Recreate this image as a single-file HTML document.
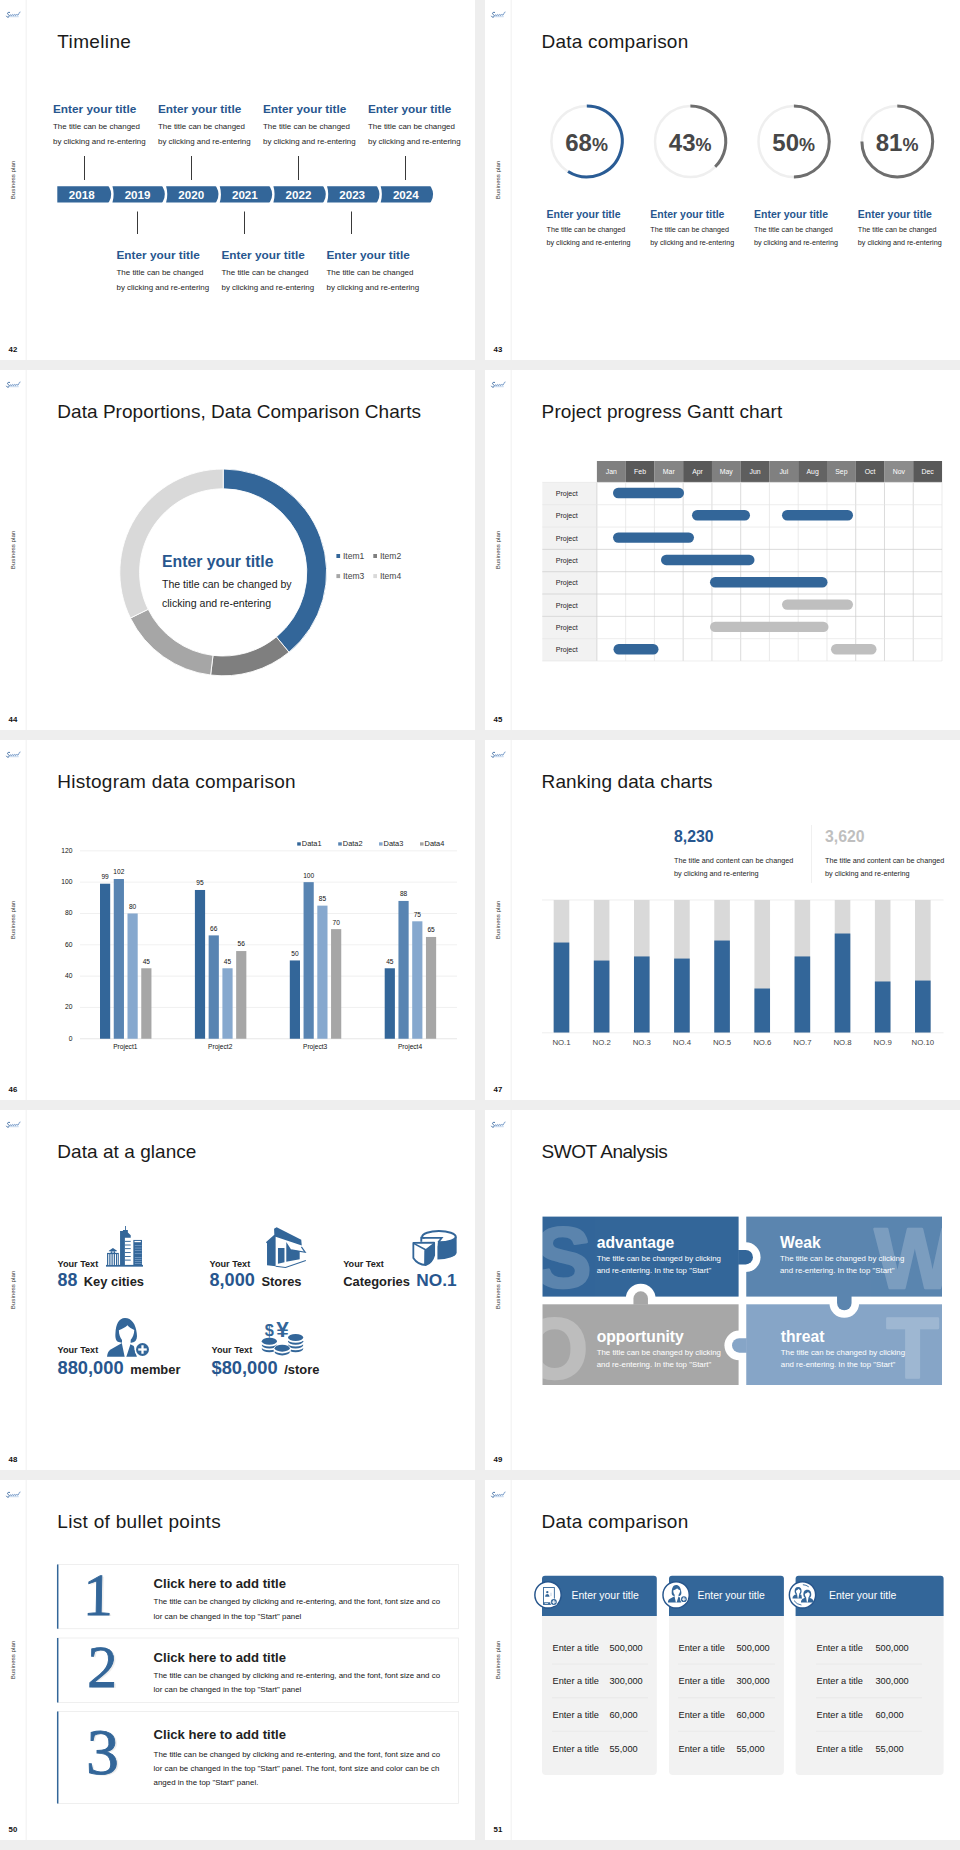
<!DOCTYPE html>
<html lang="en"><head><meta charset="utf-8"><title>Business plan slides</title>
<style>
html,body{margin:0;padding:0}
body{width:960px;height:1850px;background:#eeeeee;position:relative;overflow:hidden;font-family:"Liberation Sans",sans-serif}
.slide{position:absolute;width:475px;height:360px;background:#fff;overflow:hidden}
.art{display:block;font-family:"Liberation Sans",sans-serif}
.art text{white-space:pre}
</style></head><body>
<section class="slide" style="left:0px;top:0px">
<svg class="art" width="475" height="360" viewBox="0 0 475 360">
<line x1="26.2" y1="0" x2="26.2" y2="360" stroke="#f3f3f3" stroke-width="1.2"/>
<g transform="translate(6.4 11.8)" fill="none" stroke-linecap="round"><path d="M3.2 .6C1.6 .2 .6 1.2 1.4 2.2S3.4 3.6 2.6 4.8.4 5.2 0 4.4" stroke="#2e5f9a" stroke-width=".9"/><path d="M3.6 3.6c.5-1 1.1-1 1.2-.2s.5.8 1-.1.9-.8 1 0 .6.8 1.1-.1.8-.9 1 0 .6.7 1.1-.2.9-.7 1 .1.8.5 1.5-1.3 1-1.6 1.2-1.6" stroke="#4a7ab5" stroke-width=".75"/><path d="M3.4 4.9h8.6" stroke="#9fbfe3" stroke-width=".6"/></g>
<text transform="translate(15.3 180) rotate(-90)" font-size="6.2" fill="#333" text-anchor="middle">Business plan</text>
<text x="8.6" y="351.6" font-size="7.8" fill="#111" font-weight="bold">42</text>
<text x="57.3" y="47.5" font-size="19" fill="#1a1a1a" letter-spacing="0.357">Timeline</text>
<text x="53" y="113.3" font-size="11.8" fill="#27568e" font-weight="bold">Enter your title</text><text x="53" y="129.2" font-size="7.95" fill="#1e1e1e">The title can be changed</text><text x="53" y="143.6" font-size="7.95" fill="#1e1e1e">by clicking and re-entering</text><line x1="84.5" y1="156" x2="84.5" y2="180" stroke="#222" stroke-width="0.9"/>
<text x="158" y="113.3" font-size="11.8" fill="#27568e" font-weight="bold">Enter your title</text><text x="158" y="129.2" font-size="7.95" fill="#1e1e1e">The title can be changed</text><text x="158" y="143.6" font-size="7.95" fill="#1e1e1e">by clicking and re-entering</text><line x1="191.5" y1="156" x2="191.5" y2="180" stroke="#222" stroke-width="0.9"/>
<text x="263" y="113.3" font-size="11.8" fill="#27568e" font-weight="bold">Enter your title</text><text x="263" y="129.2" font-size="7.95" fill="#1e1e1e">The title can be changed</text><text x="263" y="143.6" font-size="7.95" fill="#1e1e1e">by clicking and re-entering</text><line x1="298.5" y1="156" x2="298.5" y2="180" stroke="#222" stroke-width="0.9"/>
<text x="368" y="113.3" font-size="11.8" fill="#27568e" font-weight="bold">Enter your title</text><text x="368" y="129.2" font-size="7.95" fill="#1e1e1e">The title can be changed</text><text x="368" y="143.6" font-size="7.95" fill="#1e1e1e">by clicking and re-entering</text><line x1="405.5" y1="156" x2="405.5" y2="180" stroke="#222" stroke-width="0.9"/>
<text x="116.5" y="259.3" font-size="11.8" fill="#27568e" font-weight="bold">Enter your title</text><text x="116.5" y="275.2" font-size="7.95" fill="#1e1e1e">The title can be changed</text><text x="116.5" y="289.6" font-size="7.95" fill="#1e1e1e">by clicking and re-entering</text><line x1="137.5" y1="211.5" x2="137.5" y2="234" stroke="#222" stroke-width="0.9"/>
<text x="221.5" y="259.3" font-size="11.8" fill="#27568e" font-weight="bold">Enter your title</text><text x="221.5" y="275.2" font-size="7.95" fill="#1e1e1e">The title can be changed</text><text x="221.5" y="289.6" font-size="7.95" fill="#1e1e1e">by clicking and re-entering</text><line x1="244.5" y1="211.5" x2="244.5" y2="234" stroke="#222" stroke-width="0.9"/>
<text x="326.5" y="259.3" font-size="11.8" fill="#27568e" font-weight="bold">Enter your title</text><text x="326.5" y="275.2" font-size="7.95" fill="#1e1e1e">The title can be changed</text><text x="326.5" y="289.6" font-size="7.95" fill="#1e1e1e">by clicking and re-entering</text><line x1="351.5" y1="211.5" x2="351.5" y2="234" stroke="#222" stroke-width="0.9"/>
<path d="M57.30 186.3L107.95 186.3Q108.95 186.3 109.20 187.3Q113.25 194.45 109.20 201.6Q108.95 202.6 107.95 202.6L57.30 202.6Z" fill="#336699"/><text x="81.72" y="198.7" font-size="11.6" fill="#fff" font-weight="bold" text-anchor="middle">2018</text>
<path d="M112.45 186.3L161.60 186.3Q162.60 186.3 162.85 187.3Q166.90 194.45 162.85 201.6Q162.60 202.6 161.60 202.6L112.45 202.6Q114.85 194.45 112.45 186.3Z" fill="#336699"/><text x="137.57" y="198.7" font-size="11.6" fill="#fff" font-weight="bold" text-anchor="middle">2019</text>
<path d="M166.10 186.3L215.25 186.3Q216.25 186.3 216.50 187.3Q220.55 194.45 216.50 201.6Q216.25 202.6 215.25 202.6L166.10 202.6Q168.50 194.45 166.10 186.3Z" fill="#336699"/><text x="191.23" y="198.7" font-size="11.6" fill="#fff" font-weight="bold" text-anchor="middle">2020</text>
<path d="M219.75 186.3L268.90 186.3Q269.90 186.3 270.15 187.3Q274.20 194.45 270.15 201.6Q269.90 202.6 268.90 202.6L219.75 202.6Q222.15 194.45 219.75 186.3Z" fill="#336699"/><text x="244.88" y="198.7" font-size="11.6" fill="#fff" font-weight="bold" text-anchor="middle">2021</text>
<path d="M273.40 186.3L322.55 186.3Q323.55 186.3 323.80 187.3Q327.85 194.45 323.80 201.6Q323.55 202.6 322.55 202.6L273.40 202.6Q275.80 194.45 273.40 186.3Z" fill="#336699"/><text x="298.52" y="198.7" font-size="11.6" fill="#fff" font-weight="bold" text-anchor="middle">2022</text>
<path d="M327.05 186.3L376.20 186.3Q377.20 186.3 377.45 187.3Q381.50 194.45 377.45 201.6Q377.20 202.6 376.20 202.6L327.05 202.6Q329.45 194.45 327.05 186.3Z" fill="#336699"/><text x="352.18" y="198.7" font-size="11.6" fill="#fff" font-weight="bold" text-anchor="middle">2023</text>
<path d="M380.70 186.3L429.85 186.3Q430.85 186.3 431.10 187.3Q435.15 194.45 431.10 201.6Q430.85 202.6 429.85 202.6L380.70 202.6Q383.10 194.45 380.70 186.3Z" fill="#336699"/><text x="405.82" y="198.7" font-size="11.6" fill="#fff" font-weight="bold" text-anchor="middle">2024</text>
</svg>
</section>
<section class="slide" style="left:485px;top:0px">
<svg class="art" width="475" height="360" viewBox="485 0 475 360">
<line x1="511.2" y1="0" x2="511.2" y2="360" stroke="#f3f3f3" stroke-width="1.2"/>
<g transform="translate(491.4 11.8)" fill="none" stroke-linecap="round"><path d="M3.2 .6C1.6 .2 .6 1.2 1.4 2.2S3.4 3.6 2.6 4.8.4 5.2 0 4.4" stroke="#2e5f9a" stroke-width=".9"/><path d="M3.6 3.6c.5-1 1.1-1 1.2-.2s.5.8 1-.1.9-.8 1 0 .6.8 1.1-.1.8-.9 1 0 .6.7 1.1-.2.9-.7 1 .1.8.5 1.5-1.3 1-1.6 1.2-1.6" stroke="#4a7ab5" stroke-width=".75"/><path d="M3.4 4.9h8.6" stroke="#9fbfe3" stroke-width=".6"/></g>
<text transform="translate(500.3 180) rotate(-90)" font-size="6.2" fill="#333" text-anchor="middle">Business plan</text>
<text x="493.6" y="351.6" font-size="7.8" fill="#111" font-weight="bold">43</text>
<text x="541.6" y="47.5" font-size="19" fill="#1a1a1a" letter-spacing="0.214">Data comparison</text>
<circle cx="586.8" cy="141.5" r="35.4" fill="none" stroke="#efefef" stroke-width="2.5"/><path d="M586.80 106.10A35.4 35.4 0 1 1 568.04 171.52" fill="none" stroke="#2a5c95" stroke-width="3"/><text x="586.5999999999999" y="150.5" text-anchor="middle" font-weight="bold" fill="#474747" font-size="24">68<tspan font-size="18">%</tspan></text>
<text x="546.5" y="217.6" font-size="10.5" fill="#27568e" font-weight="bold">Enter your title</text><text x="546.5" y="231.8" font-size="7.2" fill="#222">The title can be changed</text><text x="546.5" y="245.4" font-size="7.2" fill="#222">by clicking and re-entering</text>
<circle cx="690.4" cy="141.5" r="35.4" fill="none" stroke="#efefef" stroke-width="2.5"/><path d="M690.40 106.10A35.4 35.4 0 0 1 715.21 166.75" fill="none" stroke="#6e6e6e" stroke-width="3"/><text x="690.1999999999999" y="150.5" text-anchor="middle" font-weight="bold" fill="#474747" font-size="24">43<tspan font-size="18">%</tspan></text>
<text x="650.3" y="217.6" font-size="10.5" fill="#27568e" font-weight="bold">Enter your title</text><text x="650.3" y="231.8" font-size="7.2" fill="#222">The title can be changed</text><text x="650.3" y="245.4" font-size="7.2" fill="#222">by clicking and re-entering</text>
<circle cx="793.9" cy="141.5" r="35.4" fill="none" stroke="#efefef" stroke-width="2.5"/><path d="M793.90 106.10A35.4 35.4 0 0 1 793.90 176.90" fill="none" stroke="#6e6e6e" stroke-width="3"/><text x="793.6999999999999" y="150.5" text-anchor="middle" font-weight="bold" fill="#474747" font-size="24">50<tspan font-size="18">%</tspan></text>
<text x="754" y="217.6" font-size="10.5" fill="#27568e" font-weight="bold">Enter your title</text><text x="754" y="231.8" font-size="7.2" fill="#222">The title can be changed</text><text x="754" y="245.4" font-size="7.2" fill="#222">by clicking and re-entering</text>
<circle cx="897.3" cy="141.5" r="35.4" fill="none" stroke="#efefef" stroke-width="2.5"/><path d="M897.30 106.10A35.4 35.4 0 1 1 861.90 141.50" fill="none" stroke="#6e6e6e" stroke-width="3"/><text x="897.0999999999999" y="150.5" text-anchor="middle" font-weight="bold" fill="#474747" font-size="24">81<tspan font-size="18">%</tspan></text>
<text x="857.8" y="217.6" font-size="10.5" fill="#27568e" font-weight="bold">Enter your title</text><text x="857.8" y="231.8" font-size="7.2" fill="#222">The title can be changed</text><text x="857.8" y="245.4" font-size="7.2" fill="#222">by clicking and re-entering</text>
</svg>
</section>
<section class="slide" style="left:0px;top:370px">
<svg class="art" width="475" height="360" viewBox="0 370 475 360">
<line x1="26.2" y1="370" x2="26.2" y2="730" stroke="#f3f3f3" stroke-width="1.2"/>
<g transform="translate(6.4 381.8)" fill="none" stroke-linecap="round"><path d="M3.2 .6C1.6 .2 .6 1.2 1.4 2.2S3.4 3.6 2.6 4.8.4 5.2 0 4.4" stroke="#2e5f9a" stroke-width=".9"/><path d="M3.6 3.6c.5-1 1.1-1 1.2-.2s.5.8 1-.1.9-.8 1 0 .6.8 1.1-.1.8-.9 1 0 .6.7 1.1-.2.9-.7 1 .1.8.5 1.5-1.3 1-1.6 1.2-1.6" stroke="#4a7ab5" stroke-width=".75"/><path d="M3.4 4.9h8.6" stroke="#9fbfe3" stroke-width=".6"/></g>
<text transform="translate(15.3 550) rotate(-90)" font-size="6.2" fill="#333" text-anchor="middle">Business plan</text>
<text x="8.6" y="721.6" font-size="7.8" fill="#111" font-weight="bold">44</text>
<text x="57.3" y="417.5" font-size="19" fill="#1a1a1a" letter-spacing="0.038">Data Proportions, Data Comparison Charts</text>
<path d="M223.20 469.00A103.4 103.4 0 0 1 288.97 652.19L276.38 636.91A83.6 83.6 0 0 0 223.20 488.80Z" fill="#336699" stroke="#fff" stroke-width="0.9"/>
<path d="M288.97 652.19A103.4 103.4 0 0 1 210.60 675.03L213.01 655.38A83.6 83.6 0 0 0 276.38 636.91Z" fill="#7f7f7f" stroke="#fff" stroke-width="0.9"/>
<path d="M210.60 675.03A103.4 103.4 0 0 1 130.42 618.05L148.19 609.31A83.6 83.6 0 0 0 213.01 655.38Z" fill="#a6a6a6" stroke="#fff" stroke-width="0.9"/>
<path d="M130.42 618.05A103.4 103.4 0 0 1 223.20 469.00L223.20 488.80A83.6 83.6 0 0 0 148.19 609.31Z" fill="#d9d9d9" stroke="#fff" stroke-width="0.9"/>
<text x="162" y="566.5" font-size="15.8" fill="#27568e" font-weight="bold">Enter your title</text><text x="162" y="587.5" font-size="10.55" fill="#1a1a1a">The title can be changed by</text><text x="162" y="606.6" font-size="10.55" fill="#1a1a1a">clicking and re-entering</text>
<rect x="336.40" y="554.00" width="3.70" height="4.00" fill="#336699"/><text x="343.0" y="558.8" font-size="8.5" fill="#444">Item1</text>
<rect x="373.30" y="554.00" width="3.70" height="4.00" fill="#7f7f7f"/><text x="379.90000000000003" y="558.8" font-size="8.5" fill="#444">Item2</text>
<rect x="336.40" y="574.10" width="3.70" height="4.00" fill="#a6a6a6"/><text x="343.0" y="578.9" font-size="8.5" fill="#444">Item3</text>
<rect x="373.30" y="574.10" width="3.70" height="4.00" fill="#d9d9d9"/><text x="379.90000000000003" y="578.9" font-size="8.5" fill="#444">Item4</text>
</svg>
</section>
<section class="slide" style="left:485px;top:370px">
<svg class="art" width="475" height="360" viewBox="485 370 475 360">
<line x1="511.2" y1="370" x2="511.2" y2="730" stroke="#f3f3f3" stroke-width="1.2"/>
<g transform="translate(491.4 381.8)" fill="none" stroke-linecap="round"><path d="M3.2 .6C1.6 .2 .6 1.2 1.4 2.2S3.4 3.6 2.6 4.8.4 5.2 0 4.4" stroke="#2e5f9a" stroke-width=".9"/><path d="M3.6 3.6c.5-1 1.1-1 1.2-.2s.5.8 1-.1.9-.8 1 0 .6.8 1.1-.1.8-.9 1 0 .6.7 1.1-.2.9-.7 1 .1.8.5 1.5-1.3 1-1.6 1.2-1.6" stroke="#4a7ab5" stroke-width=".75"/><path d="M3.4 4.9h8.6" stroke="#9fbfe3" stroke-width=".6"/></g>
<text transform="translate(500.3 550) rotate(-90)" font-size="6.2" fill="#333" text-anchor="middle">Business plan</text>
<text x="493.6" y="721.6" font-size="7.8" fill="#111" font-weight="bold">45</text>
<text x="541.6" y="417.5" font-size="19" fill="#1a1a1a" letter-spacing="0.111">Project progress Gantt chart</text>
<rect x="596.90" y="461.00" width="28.81" height="21.40" fill="#808080"/><text x="611.2791666666667" y="474.3" font-size="6.9" fill="#fff" text-anchor="middle">Jan</text>
<rect x="625.66" y="461.00" width="28.81" height="21.40" fill="#595959"/><text x="640.0375" y="474.3" font-size="6.9" fill="#fff" text-anchor="middle">Feb</text>
<rect x="654.42" y="461.00" width="28.81" height="21.40" fill="#858585"/><text x="668.7958333333333" y="474.3" font-size="6.9" fill="#fff" text-anchor="middle">Mar</text>
<rect x="683.17" y="461.00" width="28.81" height="21.40" fill="#595959"/><text x="697.5541666666667" y="474.3" font-size="6.9" fill="#fff" text-anchor="middle">Apr</text>
<rect x="711.93" y="461.00" width="28.81" height="21.40" fill="#808080"/><text x="726.3125" y="474.3" font-size="6.9" fill="#fff" text-anchor="middle">May</text>
<rect x="740.69" y="461.00" width="28.81" height="21.40" fill="#5e5e5e"/><text x="755.0708333333333" y="474.3" font-size="6.9" fill="#fff" text-anchor="middle">Jun</text>
<rect x="769.45" y="461.00" width="28.81" height="21.40" fill="#808080"/><text x="783.8291666666667" y="474.3" font-size="6.9" fill="#fff" text-anchor="middle">Jul</text>
<rect x="798.21" y="461.00" width="28.81" height="21.40" fill="#636363"/><text x="812.5875" y="474.3" font-size="6.9" fill="#fff" text-anchor="middle">Aug</text>
<rect x="826.97" y="461.00" width="28.81" height="21.40" fill="#808080"/><text x="841.3458333333333" y="474.3" font-size="6.9" fill="#fff" text-anchor="middle">Sep</text>
<rect x="855.73" y="461.00" width="28.81" height="21.40" fill="#595959"/><text x="870.1041666666667" y="474.3" font-size="6.9" fill="#fff" text-anchor="middle">Oct</text>
<rect x="884.48" y="461.00" width="28.81" height="21.40" fill="#8c8c8c"/><text x="898.8625" y="474.3" font-size="6.9" fill="#fff" text-anchor="middle">Nov</text>
<rect x="913.24" y="461.00" width="28.81" height="21.40" fill="#595959"/><text x="927.6208333333334" y="474.3" font-size="6.9" fill="#fff" text-anchor="middle">Dec</text>
<rect x="542.30" y="482.40" width="54.60" height="178.60" fill="#f2f2f2"/><line x1="596.90" y1="482.4" x2="596.90" y2="661.0" stroke="#cbcbcb" stroke-width="0.7"/><line x1="625.66" y1="482.4" x2="625.66" y2="661.0" stroke="#e2e2e2" stroke-width="0.7"/><line x1="654.42" y1="482.4" x2="654.42" y2="661.0" stroke="#e2e2e2" stroke-width="0.7"/><line x1="683.17" y1="482.4" x2="683.17" y2="661.0" stroke="#cbcbcb" stroke-width="0.7"/><line x1="711.93" y1="482.4" x2="711.93" y2="661.0" stroke="#cbcbcb" stroke-width="0.7"/><line x1="740.69" y1="482.4" x2="740.69" y2="661.0" stroke="#cbcbcb" stroke-width="0.7"/><line x1="769.45" y1="482.4" x2="769.45" y2="661.0" stroke="#e2e2e2" stroke-width="0.7"/><line x1="798.21" y1="482.4" x2="798.21" y2="661.0" stroke="#e2e2e2" stroke-width="0.7"/><line x1="826.97" y1="482.4" x2="826.97" y2="661.0" stroke="#e2e2e2" stroke-width="0.7"/><line x1="855.73" y1="482.4" x2="855.73" y2="661.0" stroke="#cbcbcb" stroke-width="0.7"/><line x1="884.48" y1="482.4" x2="884.48" y2="661.0" stroke="#cbcbcb" stroke-width="0.7"/><line x1="913.24" y1="482.4" x2="913.24" y2="661.0" stroke="#cbcbcb" stroke-width="0.7"/><line x1="942.00" y1="482.4" x2="942.00" y2="661.0" stroke="#e2e2e2" stroke-width="0.7"/><line x1="542.3" y1="482.40" x2="942.0" y2="482.40" stroke="#e6e6e6" stroke-width="0.7"/><line x1="542.3" y1="504.72" x2="942.0" y2="504.72" stroke="#e6e6e6" stroke-width="0.7"/><line x1="542.3" y1="527.05" x2="942.0" y2="527.05" stroke="#e6e6e6" stroke-width="0.7"/><line x1="542.3" y1="549.38" x2="942.0" y2="549.38" stroke="#cdcdcd" stroke-width="0.7"/><line x1="542.3" y1="571.70" x2="942.0" y2="571.70" stroke="#cdcdcd" stroke-width="0.7"/><line x1="542.3" y1="594.02" x2="942.0" y2="594.02" stroke="#cdcdcd" stroke-width="0.7"/><line x1="542.3" y1="616.35" x2="942.0" y2="616.35" stroke="#cdcdcd" stroke-width="0.7"/><line x1="542.3" y1="638.67" x2="942.0" y2="638.67" stroke="#e6e6e6" stroke-width="0.7"/><line x1="542.3" y1="661.00" x2="942.0" y2="661.00" stroke="#e6e6e6" stroke-width="0.7"/>
<text x="566.7" y="496.0625" font-size="7.1" fill="#262626" text-anchor="middle">Project</text><text x="566.7" y="518.3874999999999" font-size="7.1" fill="#262626" text-anchor="middle">Project</text><text x="566.7" y="540.7125" font-size="7.1" fill="#262626" text-anchor="middle">Project</text><text x="566.7" y="563.0375" font-size="7.1" fill="#262626" text-anchor="middle">Project</text><text x="566.7" y="585.3625" font-size="7.1" fill="#262626" text-anchor="middle">Project</text><text x="566.7" y="607.6875" font-size="7.1" fill="#262626" text-anchor="middle">Project</text><text x="566.7" y="630.0125" font-size="7.1" fill="#262626" text-anchor="middle">Project</text><text x="566.7" y="652.3375" font-size="7.1" fill="#262626" text-anchor="middle">Project</text>
<rect x="613.00" y="487.76" width="71.00" height="10.40" fill="#336699" rx="5.2"/><rect x="692.00" y="510.09" width="58.00" height="10.40" fill="#336699" rx="5.2"/><rect x="782.00" y="510.09" width="71.00" height="10.40" fill="#336699" rx="5.2"/><rect x="613.00" y="532.41" width="81.00" height="10.40" fill="#336699" rx="5.2"/><rect x="661.00" y="554.74" width="93.50" height="10.40" fill="#336699" rx="5.2"/><rect x="710.00" y="577.06" width="117.50" height="10.40" fill="#336699" rx="5.2"/><rect x="782.00" y="599.39" width="71.00" height="10.40" fill="#bfbfbf" rx="5.2"/><rect x="710.00" y="621.71" width="118.50" height="10.40" fill="#bfbfbf" rx="5.2"/><rect x="613.50" y="644.04" width="45.00" height="10.40" fill="#336699" rx="5.2"/><rect x="831.00" y="644.04" width="45.50" height="10.40" fill="#bfbfbf" rx="5.2"/>
</svg>
</section>
<section class="slide" style="left:0px;top:740px">
<svg class="art" width="475" height="360" viewBox="0 740 475 360">
<line x1="26.2" y1="740" x2="26.2" y2="1100" stroke="#f3f3f3" stroke-width="1.2"/>
<g transform="translate(6.4 751.8)" fill="none" stroke-linecap="round"><path d="M3.2 .6C1.6 .2 .6 1.2 1.4 2.2S3.4 3.6 2.6 4.8.4 5.2 0 4.4" stroke="#2e5f9a" stroke-width=".9"/><path d="M3.6 3.6c.5-1 1.1-1 1.2-.2s.5.8 1-.1.9-.8 1 0 .6.8 1.1-.1.8-.9 1 0 .6.7 1.1-.2.9-.7 1 .1.8.5 1.5-1.3 1-1.6 1.2-1.6" stroke="#4a7ab5" stroke-width=".75"/><path d="M3.4 4.9h8.6" stroke="#9fbfe3" stroke-width=".6"/></g>
<text transform="translate(15.3 920) rotate(-90)" font-size="6.2" fill="#333" text-anchor="middle">Business plan</text>
<text x="8.6" y="1091.6" font-size="7.8" fill="#111" font-weight="bold">46</text>
<text x="57.3" y="787.5" font-size="19" fill="#1a1a1a" letter-spacing="0.250">Histogram data comparison</text>
<line x1="80" y1="1038.75" x2="457" y2="1038.75" stroke="#dcdcdc" stroke-width="0.7"/><text x="72.4" y="1040.55" font-size="6.7" fill="#111" text-anchor="end">0</text><line x1="80" y1="1007.43" x2="457" y2="1007.43" stroke="#e9e9e9" stroke-width="0.7"/><text x="72.4" y="1009.23" font-size="6.7" fill="#111" text-anchor="end">20</text><line x1="80" y1="976.11" x2="457" y2="976.11" stroke="#e9e9e9" stroke-width="0.7"/><text x="72.4" y="977.91" font-size="6.7" fill="#111" text-anchor="end">40</text><line x1="80" y1="944.79" x2="457" y2="944.79" stroke="#e9e9e9" stroke-width="0.7"/><text x="72.4" y="946.59" font-size="6.7" fill="#111" text-anchor="end">60</text><line x1="80" y1="913.47" x2="457" y2="913.47" stroke="#e9e9e9" stroke-width="0.7"/><text x="72.4" y="915.27" font-size="6.7" fill="#111" text-anchor="end">80</text><line x1="80" y1="882.15" x2="457" y2="882.15" stroke="#e9e9e9" stroke-width="0.7"/><text x="72.4" y="883.95" font-size="6.7" fill="#111" text-anchor="end">100</text><line x1="80" y1="850.83" x2="457" y2="850.83" stroke="#e9e9e9" stroke-width="0.7"/><text x="72.4" y="852.63" font-size="6.7" fill="#111" text-anchor="end">120</text>
<rect x="100.00" y="883.72" width="10.20" height="155.03" fill="#336699"/><text x="105.10" y="879.12" font-size="6.6" fill="#111" text-anchor="middle">99</text><rect x="113.75" y="879.02" width="10.20" height="159.73" fill="#5884b2"/><text x="118.85" y="874.42" font-size="6.6" fill="#111" text-anchor="middle">102</text><rect x="127.50" y="913.47" width="10.20" height="125.28" fill="#86a8ce"/><text x="132.60" y="908.87" font-size="6.6" fill="#111" text-anchor="middle">80</text><rect x="141.25" y="968.28" width="10.20" height="70.47" fill="#a6a6a6"/><text x="146.35" y="963.68" font-size="6.6" fill="#111" text-anchor="middle">45</text><text x="125.32" y="1049.3" font-size="6.6" fill="#111" text-anchor="middle">Project1</text>
<rect x="194.90" y="889.98" width="10.20" height="148.77" fill="#336699"/><text x="200.00" y="885.38" font-size="6.6" fill="#111" text-anchor="middle">95</text><rect x="208.65" y="935.39" width="10.20" height="103.36" fill="#5884b2"/><text x="213.75" y="930.79" font-size="6.6" fill="#111" text-anchor="middle">66</text><rect x="222.40" y="968.28" width="10.20" height="70.47" fill="#86a8ce"/><text x="227.50" y="963.68" font-size="6.6" fill="#111" text-anchor="middle">45</text><rect x="236.15" y="951.05" width="10.20" height="87.70" fill="#a6a6a6"/><text x="241.25" y="946.45" font-size="6.6" fill="#111" text-anchor="middle">56</text><text x="220.22" y="1049.3" font-size="6.6" fill="#111" text-anchor="middle">Project2</text>
<rect x="289.80" y="960.45" width="10.20" height="78.30" fill="#336699"/><text x="294.90" y="955.85" font-size="6.6" fill="#111" text-anchor="middle">50</text><rect x="303.55" y="882.15" width="10.20" height="156.60" fill="#5884b2"/><text x="308.65" y="877.55" font-size="6.6" fill="#111" text-anchor="middle">100</text><rect x="317.30" y="905.64" width="10.20" height="133.11" fill="#86a8ce"/><text x="322.40" y="901.04" font-size="6.6" fill="#111" text-anchor="middle">85</text><rect x="331.05" y="929.13" width="10.20" height="109.62" fill="#a6a6a6"/><text x="336.15" y="924.53" font-size="6.6" fill="#111" text-anchor="middle">70</text><text x="315.13" y="1049.3" font-size="6.6" fill="#111" text-anchor="middle">Project3</text>
<rect x="384.70" y="968.28" width="10.20" height="70.47" fill="#336699"/><text x="389.80" y="963.68" font-size="6.6" fill="#111" text-anchor="middle">45</text><rect x="398.45" y="900.94" width="10.20" height="137.81" fill="#5884b2"/><text x="403.55" y="896.34" font-size="6.6" fill="#111" text-anchor="middle">88</text><rect x="412.20" y="921.30" width="10.20" height="117.45" fill="#86a8ce"/><text x="417.30" y="916.70" font-size="6.6" fill="#111" text-anchor="middle">75</text><rect x="425.95" y="936.96" width="10.20" height="101.79" fill="#a6a6a6"/><text x="431.05" y="932.36" font-size="6.6" fill="#111" text-anchor="middle">65</text><text x="410.03" y="1049.3" font-size="6.6" fill="#111" text-anchor="middle">Project4</text>
<rect x="297.20" y="842.30" width="3.60" height="3.30" fill="#336699"/><text x="301.8" y="846.3" font-size="7.4" fill="#222">Data1</text><rect x="338.20" y="842.30" width="3.60" height="3.30" fill="#5884b2"/><text x="342.8" y="846.3" font-size="7.4" fill="#222">Data2</text><rect x="379.00" y="842.30" width="3.60" height="3.30" fill="#86a8ce"/><text x="383.6" y="846.3" font-size="7.4" fill="#222">Data3</text><rect x="420.00" y="842.30" width="3.60" height="3.30" fill="#a6a6a6"/><text x="424.6" y="846.3" font-size="7.4" fill="#222">Data4</text>
</svg>
</section>
<section class="slide" style="left:485px;top:740px">
<svg class="art" width="475" height="360" viewBox="485 740 475 360">
<line x1="511.2" y1="740" x2="511.2" y2="1100" stroke="#f3f3f3" stroke-width="1.2"/>
<g transform="translate(491.4 751.8)" fill="none" stroke-linecap="round"><path d="M3.2 .6C1.6 .2 .6 1.2 1.4 2.2S3.4 3.6 2.6 4.8.4 5.2 0 4.4" stroke="#2e5f9a" stroke-width=".9"/><path d="M3.6 3.6c.5-1 1.1-1 1.2-.2s.5.8 1-.1.9-.8 1 0 .6.8 1.1-.1.8-.9 1 0 .6.7 1.1-.2.9-.7 1 .1.8.5 1.5-1.3 1-1.6 1.2-1.6" stroke="#4a7ab5" stroke-width=".75"/><path d="M3.4 4.9h8.6" stroke="#9fbfe3" stroke-width=".6"/></g>
<text transform="translate(500.3 920) rotate(-90)" font-size="6.2" fill="#333" text-anchor="middle">Business plan</text>
<text x="493.6" y="1091.6" font-size="7.8" fill="#111" font-weight="bold">47</text>
<text x="541.6" y="787.5" font-size="19" fill="#1a1a1a" letter-spacing="0.111">Ranking data charts</text>
<line x1="542.0" y1="900.0" x2="943.5" y2="900.0" stroke="#e6e6e6" stroke-width="0.7"/><line x1="542.0" y1="1032.8" x2="943.5" y2="1032.8" stroke="#e8e8e8" stroke-width="0.7"/><rect x="553.68" y="900.00" width="15.60" height="132.50" fill="#d9d9d9"/><rect x="553.68" y="942.53" width="15.60" height="89.97" fill="#336699"/><text x="561.48" y="1045.3" font-size="7.8" fill="#444" text-anchor="middle">NO.1</text><rect x="593.83" y="900.00" width="15.60" height="132.50" fill="#d9d9d9"/><rect x="593.83" y="960.55" width="15.60" height="71.95" fill="#336699"/><text x="601.62" y="1045.3" font-size="7.8" fill="#444" text-anchor="middle">NO.2</text><rect x="633.98" y="900.00" width="15.60" height="132.50" fill="#d9d9d9"/><rect x="633.98" y="956.45" width="15.60" height="76.05" fill="#336699"/><text x="641.77" y="1045.3" font-size="7.8" fill="#444" text-anchor="middle">NO.3</text><rect x="674.12" y="900.00" width="15.60" height="132.50" fill="#d9d9d9"/><rect x="674.12" y="958.57" width="15.60" height="73.94" fill="#336699"/><text x="681.92" y="1045.3" font-size="7.8" fill="#444" text-anchor="middle">NO.4</text><rect x="714.27" y="900.00" width="15.60" height="132.50" fill="#d9d9d9"/><rect x="714.27" y="940.54" width="15.60" height="91.95" fill="#336699"/><text x="722.07" y="1045.3" font-size="7.8" fill="#444" text-anchor="middle">NO.5</text><rect x="754.43" y="900.00" width="15.60" height="132.50" fill="#d9d9d9"/><rect x="754.43" y="988.51" width="15.60" height="43.99" fill="#336699"/><text x="762.23" y="1045.3" font-size="7.8" fill="#444" text-anchor="middle">NO.6</text><rect x="794.57" y="900.00" width="15.60" height="132.50" fill="#d9d9d9"/><rect x="794.57" y="956.45" width="15.60" height="76.05" fill="#336699"/><text x="802.37" y="1045.3" font-size="7.8" fill="#444" text-anchor="middle">NO.7</text><rect x="834.73" y="900.00" width="15.60" height="132.50" fill="#d9d9d9"/><rect x="834.73" y="933.52" width="15.60" height="98.98" fill="#336699"/><text x="842.52" y="1045.3" font-size="7.8" fill="#444" text-anchor="middle">NO.8</text><rect x="874.88" y="900.00" width="15.60" height="132.50" fill="#d9d9d9"/><rect x="874.88" y="981.49" width="15.60" height="51.01" fill="#336699"/><text x="882.67" y="1045.3" font-size="7.8" fill="#444" text-anchor="middle">NO.9</text><rect x="915.02" y="900.00" width="15.60" height="132.50" fill="#d9d9d9"/><rect x="915.02" y="980.56" width="15.60" height="51.94" fill="#336699"/><text x="922.82" y="1045.3" font-size="7.8" fill="#444" text-anchor="middle">NO.10</text>
<text x="674" y="841.5" font-size="15.8" fill="#27568e" font-weight="bold">8,230</text><text x="825" y="841.5" font-size="15.8" fill="#bfbfbf" font-weight="bold">3,620</text><line x1="811.5" y1="825" x2="811.5" y2="883" stroke="#ececec" stroke-width="0.8"/><text x="674" y="862.8" font-size="7.25" fill="#262626">The title and content can be changed</text><text x="674" y="876.3" font-size="7.25" fill="#262626">by clicking and re-entering</text><text x="825" y="862.8" font-size="7.25" fill="#262626">The title and content can be changed</text><text x="825" y="876.3" font-size="7.25" fill="#262626">by clicking and re-entering</text>
</svg>
</section>
<section class="slide" style="left:0px;top:1110px">
<svg class="art" width="475" height="360" viewBox="0 1110 475 360">
<line x1="26.2" y1="1110" x2="26.2" y2="1470" stroke="#f3f3f3" stroke-width="1.2"/>
<g transform="translate(6.4 1121.8)" fill="none" stroke-linecap="round"><path d="M3.2 .6C1.6 .2 .6 1.2 1.4 2.2S3.4 3.6 2.6 4.8.4 5.2 0 4.4" stroke="#2e5f9a" stroke-width=".9"/><path d="M3.6 3.6c.5-1 1.1-1 1.2-.2s.5.8 1-.1.9-.8 1 0 .6.8 1.1-.1.8-.9 1 0 .6.7 1.1-.2.9-.7 1 .1.8.5 1.5-1.3 1-1.6 1.2-1.6" stroke="#4a7ab5" stroke-width=".75"/><path d="M3.4 4.9h8.6" stroke="#9fbfe3" stroke-width=".6"/></g>
<text transform="translate(15.3 1290) rotate(-90)" font-size="6.2" fill="#333" text-anchor="middle">Business plan</text>
<text x="8.6" y="1461.6" font-size="7.8" fill="#111" font-weight="bold">48</text>
<text x="57.3" y="1157.5" font-size="19" fill="#1a1a1a" letter-spacing="0.047">Data at a glance</text>
<g transform="translate(100 1220) scale(0.05208)"><rect x="115" y="862" width="710" height="34" fill="#336699"/><path d="M170 590L248 538L326 590L326 602L170 602Z" fill="#336699"/><rect x="205" y="600" width="86" height="36" fill="#336699"/><rect x="228" y="606" width="40" height="22" fill="#dbe6f3"/><rect x="135" y="632" width="226" height="232" fill="#336699"/><rect x="158" y="655" width="20" height="210" fill="#fff"/><rect x="201" y="655" width="20" height="210" fill="#fff"/><rect x="244" y="655" width="20" height="210" fill="#fff"/><rect x="287" y="655" width="20" height="210" fill="#fff"/><rect x="330" y="655" width="14" height="210" fill="#fff"/><rect x="480" y="115" width="17" height="90" fill="#336699"/><path d="M385 212L440 212L440 190L535 190L535 240L590 292L590 342L478 342L478 865L385 865Z" fill="#336699"/><rect x="478" y="401" width="112" height="18" fill="#336699"/><rect x="478" y="471" width="112" height="18" fill="#336699"/><rect x="478" y="541" width="112" height="18" fill="#336699"/><rect x="478" y="616" width="112" height="18" fill="#336699"/><rect x="478" y="691" width="112" height="18" fill="#336699"/><rect x="478" y="761" width="112" height="18" fill="#336699"/><rect x="640" y="383" width="166" height="482" fill="#336699"/><rect x="662" y="402" width="122" height="24" fill="#fff"/><rect x="668" y="481" width="130" height="12" fill="#9dbbe0" opacity=".8"/><rect x="668" y="533" width="130" height="12" fill="#9dbbe0" opacity=".8"/><rect x="668" y="583" width="130" height="12" fill="#9dbbe0" opacity=".8"/><rect x="668" y="633" width="130" height="12" fill="#9dbbe0" opacity=".8"/><rect x="668" y="713" width="130" height="12" fill="#9dbbe0" opacity=".8"/><rect x="668" y="753" width="130" height="12" fill="#9dbbe0" opacity=".8"/><rect x="668" y="793" width="130" height="12" fill="#9dbbe0" opacity=".8"/><rect x="668" y="828" width="130" height="12" fill="#9dbbe0" opacity=".8"/></g>
<g transform="translate(260 1222) scale(0.05208)"><path d="M118 385L275 245L270 130L320 103L792 342L802 452L300 285L300 852L135 832L135 410L118 400Z" fill="#336699"/><path d="M345 500L470 500L470 772L345 802Z" fill="#336699"/><path d="M505 385L600 532L762 560L762 716L505 762Z" fill="#336699"/><path d="M600 535L868 582L795 478" fill="none" stroke="#336699" stroke-width="22" stroke-linejoin="miter"/><path d="M300 850L490 872L880 737" fill="none" stroke="#336699" stroke-width="20"/></g>
<g transform="translate(408 1222) scale(0.05624)"><path d="M520 350L865 262L865 545A340 130 0 0 1 520 665Z" fill="#336699"/><ellipse cx="550" cy="262" rx="298" ry="100" fill="#fff" stroke="#336699" stroke-width="36"/><path d="M252 299L583 299L528 368L520 430L252 430Z" fill="#fff"/><path d="M236 262L236 352" stroke="#336699" stroke-width="34" fill="none"/><path d="M262 283L600 283L537 362" stroke="#336699" stroke-width="30" fill="none" stroke-linejoin="miter"/><path d="M490 372L490 700L520 700L520 372Z" fill="#fff"/><path d="M95 372L465 365L465 590Q430 720 320 765Q170 760 95 640Z" fill="#fff" stroke="#336699" stroke-width="32" stroke-linejoin="round"/><path d="M305 490L465 365L465 590Q430 720 320 765L300 760Z" fill="#336699"/><path d="M100 380L305 490L302 760" fill="none" stroke="#336699" stroke-width="30"/></g>
<g transform="translate(100 1310) scale(0.06250)"><path d="M400 128C300 128 255 230 247 370C240 460 262 500 300 512L350 525L500 525L545 510C585 490 600 440 588 370C572 225 505 128 400 128Z" fill="#336699"/><path d="M112 748C118 690 135 650 170 630L345 530L455 530L540 575L590 748Z" fill="#336699"/><path d="M302 325C350 300 410 275 440 243C465 275 510 300 548 318C548 390 520 440 492 475L488 545L420 752L395 752L352 545L352 480C322 440 302 390 302 325Z" fill="#fff"/><circle cx="680" cy="632" r="128" fill="#fff"/><circle cx="680" cy="632" r="104" fill="#336699"/><rect x="612" y="614" width="136" height="36" fill="#fff"/><rect x="662" y="564" width="36" height="136" fill="#fff"/></g>
<g transform="translate(255 1310) scale(0.06250)"><ellipse cx="230" cy="620" rx="122" ry="56" fill="#336699"/><ellipse cx="230" cy="588" rx="134" ry="56" fill="#fff"/><ellipse cx="230" cy="560" rx="122" ry="56" fill="#336699"/><ellipse cx="230" cy="528" rx="134" ry="56" fill="#fff"/><ellipse cx="230" cy="500" rx="122" ry="56" fill="#336699"/><ellipse cx="650" cy="620" rx="122" ry="56" fill="#336699"/><ellipse cx="650" cy="588" rx="134" ry="56" fill="#fff"/><ellipse cx="650" cy="560" rx="122" ry="56" fill="#336699"/><ellipse cx="650" cy="528" rx="134" ry="56" fill="#fff"/><ellipse cx="650" cy="500" rx="122" ry="56" fill="#336699"/><ellipse cx="650" cy="468" rx="134" ry="56" fill="#fff"/><ellipse cx="650" cy="440" rx="122" ry="56" fill="#336699"/><ellipse cx="435" cy="632" rx="140" ry="92" fill="#fff"/><ellipse cx="435" cy="670" rx="122" ry="56" fill="#336699"/><ellipse cx="435" cy="638" rx="134" ry="56" fill="#fff"/><ellipse cx="435" cy="610" rx="122" ry="56" fill="#336699"/><text x="230" y="412" font-size="262" font-weight="bold" fill="#336699" text-anchor="middle">$</text><text x="440" y="432" font-size="360" font-weight="bold" fill="#336699" text-anchor="middle">¥</text></g>
<text x="57.5" y="1266.6" font-size="9.15" fill="#222" font-weight="bold">Your Text</text><text x="57.5" y="1285.9" font-weight="bold"><tspan font-size="17.8" fill="#27568e">88 </tspan><tspan dx="1.6" font-size="12.9" fill="#222">Key cities</tspan></text>
<text x="209.5" y="1266.6" font-size="9.15" fill="#222" font-weight="bold">Your Text</text><text x="209.5" y="1285.9" font-weight="bold"><tspan font-size="18.1" fill="#27568e">8,000 </tspan><tspan dx="1.6" font-size="12.9" fill="#222">Stores</tspan></text>
<text x="343.2" y="1266.6" font-size="9.15" fill="#222" font-weight="bold">Your Text</text><text x="343.2" y="1285.9" font-weight="bold"><tspan font-size="12.9" fill="#222">Categories</tspan><tspan dx="1.6" font-size="17.3" fill="#27568e"> NO.1</tspan></text>
<text x="57.5" y="1352.6" font-size="9.15" fill="#222" font-weight="bold">Your Text</text><text x="57.5" y="1374.2" font-weight="bold"><tspan font-size="18.3" fill="#27568e">880,000 </tspan><tspan dx="1.6" font-size="12.9" fill="#222">member</tspan></text>
<text x="211.5" y="1352.6" font-size="9.15" fill="#222" font-weight="bold">Your Text</text><text x="211.5" y="1374.2" font-weight="bold"><tspan font-size="18.3" fill="#27568e">$80,000 </tspan><tspan dx="1.6" font-size="12.9" fill="#222">/store</tspan></text>
</svg>
</section>
<section class="slide" style="left:485px;top:1110px">
<svg class="art" width="475" height="360" viewBox="485 1110 475 360">
<line x1="511.2" y1="1110" x2="511.2" y2="1470" stroke="#f3f3f3" stroke-width="1.2"/>
<g transform="translate(491.4 1121.8)" fill="none" stroke-linecap="round"><path d="M3.2 .6C1.6 .2 .6 1.2 1.4 2.2S3.4 3.6 2.6 4.8.4 5.2 0 4.4" stroke="#2e5f9a" stroke-width=".9"/><path d="M3.6 3.6c.5-1 1.1-1 1.2-.2s.5.8 1-.1.9-.8 1 0 .6.8 1.1-.1.8-.9 1 0 .6.7 1.1-.2.9-.7 1 .1.8.5 1.5-1.3 1-1.6 1.2-1.6" stroke="#4a7ab5" stroke-width=".75"/><path d="M3.4 4.9h8.6" stroke="#9fbfe3" stroke-width=".6"/></g>
<text transform="translate(500.3 1290) rotate(-90)" font-size="6.2" fill="#333" text-anchor="middle">Business plan</text>
<text x="493.6" y="1461.6" font-size="7.8" fill="#111" font-weight="bold">49</text>
<text x="541.6" y="1157.5" font-size="19" fill="#1a1a1a" letter-spacing="-0.458">SWOT Analysis</text>
<defs><clipPath id="cS"><rect x="542.5" y="1216.6" width="199.10000000000002" height="83.0"/></clipPath><clipPath id="cW"><rect x="743.25" y="1216.6" width="198.75" height="83.0"/></clipPath><clipPath id="cO"><rect x="542.5" y="1301.3" width="199.10000000000002" height="83.70000000000005"/></clipPath><clipPath id="cT"><rect x="743.25" y="1301.3" width="198.75" height="83.70000000000005"/></clipPath></defs>
<rect x="542.50" y="1216.60" width="196.10" height="80.00" fill="#336699"/><rect x="746.25" y="1216.60" width="195.75" height="80.00" fill="#5b85af"/><rect x="542.50" y="1304.30" width="196.10" height="80.70" fill="#a7a7a7"/><rect x="746.25" y="1304.30" width="195.75" height="80.70" fill="#86a5c7"/>
<g clip-path="url(#cS)"><text x="534.4" y="1287.2" font-size="85.5" font-weight="bold" fill="#fff" stroke="#fff" stroke-width="2.6" stroke-linejoin="round" opacity="0.2">S</text></g><g clip-path="url(#cO)"><text x="521.5" y="1378.0" font-size="85.5" font-weight="bold" fill="#fff" stroke="#fff" stroke-width="2.6" stroke-linejoin="round" opacity="0.25">O</text></g><g clip-path="url(#cW)"><text x="874.4" y="1287.8" font-size="85.5" font-weight="bold" fill="#fff" stroke="#fff" stroke-width="2.6" stroke-linejoin="round" opacity="0.2">W</text></g><g clip-path="url(#cT)"><text x="886.6" y="1376.5" font-size="85.5" font-weight="bold" fill="#fff" stroke="#fff" stroke-width="2.6" stroke-linejoin="round" opacity="0.2">T</text></g>
<circle cx="745.7" cy="1257.2" r="14.85" fill="#fff" clip-path="url(#cW)"/><path d="M738.1 1249.95L745.7 1249.95A7.25 7.25 0 0 1 745.7 1264.45L738.1 1264.45Z" fill="#336699"/><circle cx="640.7" cy="1298.6" r="14.85" fill="#fff" clip-path="url(#cS)"/><path d="M633.45 1304.8L633.45 1298.6A7.25 7.25 0 0 1 647.95 1298.6L647.95 1304.8Z" fill="#a7a7a7"/><circle cx="844.3" cy="1303.0" r="14.85" fill="#fff" clip-path="url(#cT)"/><path d="M837.05 1296.1L837.05 1303.0A7.25 7.25 0 0 0 851.55 1303.0L851.55 1296.1Z" fill="#5b85af"/><circle cx="739.3" cy="1345.4" r="14.85" fill="#fff" clip-path="url(#cO)"/><path d="M746.75 1338.15L739.3 1338.15A7.25 7.25 0 0 0 739.3 1352.65L746.75 1352.65Z" fill="#86a5c7"/>
<text x="596.7" y="1248.2" font-size="15.7" fill="#fff" font-weight="bold">advantage</text><text x="596.7" y="1261.2" font-size="7.85" fill="#fff">The title can be changed by clicking</text><text x="596.7" y="1273.3" font-size="7.85" fill="#fff">and re-entering. In the top "Start"</text>
<text x="780.0" y="1248.2" font-size="15.7" fill="#fff" font-weight="bold">Weak</text><text x="780.0" y="1261.2" font-size="7.85" fill="#fff">The title can be changed by clicking</text><text x="780.0" y="1273.3" font-size="7.85" fill="#fff">and re-entering. In the top "Start"</text>
<text x="596.7" y="1341.8" font-size="15.7" fill="#fff" font-weight="bold">opportunity</text><text x="596.7" y="1354.8" font-size="7.85" fill="#fff">The title can be changed by clicking</text><text x="596.7" y="1366.8999999999999" font-size="7.85" fill="#fff">and re-entering. In the top "Start"</text>
<text x="780.8" y="1341.8" font-size="15.7" fill="#fff" font-weight="bold">threat</text><text x="780.8" y="1354.8" font-size="7.85" fill="#fff">The title can be changed by clicking</text><text x="780.8" y="1366.8999999999999" font-size="7.85" fill="#fff">and re-entering. In the top "Start"</text>
</svg>
</section>
<section class="slide" style="left:0px;top:1480px">
<svg class="art" width="475" height="360" viewBox="0 1480 475 360">
<line x1="26.2" y1="1480" x2="26.2" y2="1840" stroke="#f3f3f3" stroke-width="1.2"/>
<g transform="translate(6.4 1491.8)" fill="none" stroke-linecap="round"><path d="M3.2 .6C1.6 .2 .6 1.2 1.4 2.2S3.4 3.6 2.6 4.8.4 5.2 0 4.4" stroke="#2e5f9a" stroke-width=".9"/><path d="M3.6 3.6c.5-1 1.1-1 1.2-.2s.5.8 1-.1.9-.8 1 0 .6.8 1.1-.1.8-.9 1 0 .6.7 1.1-.2.9-.7 1 .1.8.5 1.5-1.3 1-1.6 1.2-1.6" stroke="#4a7ab5" stroke-width=".75"/><path d="M3.4 4.9h8.6" stroke="#9fbfe3" stroke-width=".6"/></g>
<text transform="translate(15.3 1660) rotate(-90)" font-size="6.2" fill="#333" text-anchor="middle">Business plan</text>
<text x="8.6" y="1831.6" font-size="7.8" fill="#111" font-weight="bold">50</text>
<text x="57.3" y="1527.5" font-size="19" fill="#1a1a1a" letter-spacing="0.300">List of bullet points</text>
<rect x="57.5" y="1564.5" width="401" height="64.20000000000005" fill="#fff" stroke="#ececec" stroke-width=".8"/><line x1="57.7" y1="1564.5" x2="57.7" y2="1628.7" stroke="#336699" stroke-width="1.5"/><g transform="translate(100.8 1614.6) skewX(9)"><text x="1.8" y="1.2" font-family="'Liberation Serif',serif" font-style="italic" font-size="59.5" text-anchor="middle" fill="#000" opacity=".07">1</text><text x="0" y="0" font-family="'Liberation Serif',serif" font-style="italic" font-size="59.5" text-anchor="middle" fill="#336699" stroke="#336699" stroke-width=".9">1</text></g><text x="153.6" y="1588.1" font-size="13.1" fill="#222" font-weight="bold">Click here to add title</text><text x="153.6" y="1604.3" font-size="7.9" fill="#151515">The title can be changed by clicking and re-entering, and the font, font size and co</text><text x="153.6" y="1618.6" font-size="7.9" fill="#151515">lor can be changed in the top "Start" panel</text>
<rect x="57.5" y="1638.0" width="401" height="64.5" fill="#fff" stroke="#ececec" stroke-width=".8"/><line x1="57.7" y1="1638.0" x2="57.7" y2="1702.5" stroke="#336699" stroke-width="1.5"/><g transform="translate(104.7 1686.8) skewX(9)"><text x="1.8" y="1.2" font-family="'Liberation Serif',serif" font-style="italic" font-size="59.5" text-anchor="middle" fill="#000" opacity=".07">2</text><text x="0" y="0" font-family="'Liberation Serif',serif" font-style="italic" font-size="59.5" text-anchor="middle" fill="#336699" stroke="#336699" stroke-width=".9">2</text></g><text x="153.6" y="1661.6" font-size="13.1" fill="#222" font-weight="bold">Click here to add title</text><text x="153.6" y="1677.8" font-size="7.9" fill="#151515">The title can be changed by clicking and re-entering, and the font, font size and co</text><text x="153.6" y="1692.1" font-size="7.9" fill="#151515">lor can be changed in the top "Start" panel</text>
<rect x="57.5" y="1711.5" width="401" height="92.0" fill="#fff" stroke="#ececec" stroke-width=".8"/><line x1="57.7" y1="1711.5" x2="57.7" y2="1803.5" stroke="#336699" stroke-width="1.5"/><g transform="translate(106.0 1774.0) skewX(9)"><text x="1.8" y="1.2" font-family="'Liberation Serif',serif" font-style="italic" font-size="65" text-anchor="middle" fill="#000" opacity=".07">3</text><text x="0" y="0" font-family="'Liberation Serif',serif" font-style="italic" font-size="65" text-anchor="middle" fill="#336699" stroke="#336699" stroke-width=".9">3</text></g><text x="153.6" y="1738.9879999999998" font-size="13.1" fill="#222" font-weight="bold">Click here to add title</text><text x="153.6" y="1756.7" font-size="7.9" fill="#151515">The title can be changed by clicking and re-entering, and the font, font size and co</text><text x="153.6" y="1770.9" font-size="7.9" fill="#151515">lor can be changed in the top "Start" panel. The font, font size and color can be ch</text><text x="153.6" y="1785.3000000000002" font-size="7.9" fill="#151515">anged in the top "Start" panel.</text>
</svg>
</section>
<section class="slide" style="left:485px;top:1480px">
<svg class="art" width="475" height="360" viewBox="485 1480 475 360">
<line x1="511.2" y1="1480" x2="511.2" y2="1840" stroke="#f3f3f3" stroke-width="1.2"/>
<g transform="translate(491.4 1491.8)" fill="none" stroke-linecap="round"><path d="M3.2 .6C1.6 .2 .6 1.2 1.4 2.2S3.4 3.6 2.6 4.8.4 5.2 0 4.4" stroke="#2e5f9a" stroke-width=".9"/><path d="M3.6 3.6c.5-1 1.1-1 1.2-.2s.5.8 1-.1.9-.8 1 0 .6.8 1.1-.1.8-.9 1 0 .6.7 1.1-.2.9-.7 1 .1.8.5 1.5-1.3 1-1.6 1.2-1.6" stroke="#4a7ab5" stroke-width=".75"/><path d="M3.4 4.9h8.6" stroke="#9fbfe3" stroke-width=".6"/></g>
<text transform="translate(500.3 1660) rotate(-90)" font-size="6.2" fill="#333" text-anchor="middle">Business plan</text>
<text x="493.6" y="1831.6" font-size="7.8" fill="#111" font-weight="bold">51</text>
<text x="541.6" y="1527.5" font-size="19" fill="#1a1a1a" letter-spacing="0.214">Data comparison</text>
<path d="M542.0 1613.9L656.8 1613.9L656.8 1771.0Q656.8 1775.0 652.8 1775.0L546.0 1775.0Q542.0 1775.0 542.0 1771.0Z" fill="#f2f2f2"/><path d="M542.0 1615.9L542.0 1578.8Q542.0 1575.8 545.0 1575.8L653.8 1575.8Q656.8 1575.8 656.8 1578.8L656.8 1615.9Z" fill="#336699"/><circle cx="548.0" cy="1594.9" r="13.15" fill="#fff" stroke="#26558c" stroke-width="1.45"/><rect x="543.55" y="1587.55" width="10.80" height="16.70" fill="#fff" stroke="#336699" stroke-width=".9"/><rect x="543.10" y="1602.30" width="11.70" height="2.4" fill="#336699"/><rect x="544.70" y="1603.20" width="3.4" height=".7" fill="#fff"/><circle cx="547.30" cy="1592.20" r="1.15" fill="#336699"/><path d="M545.10 1596.70q0-2.6 2.2-2.6t2.2 2.6z" fill="#336699"/><rect x="550.70" y="1592.70" width=".6" height="3.4" fill="#9bb6d6"/><circle cx="553.8" cy="1602.1000000000001" r="3.7" fill="#fff"/><circle cx="553.8" cy="1602.1000000000001" r="3.0" fill="#336699"/><rect x="551.8" y="1601.5500000000002" width="4" height="1.1" fill="#fff"/><rect x="553.25" y="1600.1000000000001" width="1.1" height="4" fill="#fff"/><text x="571.5" y="1599.0" font-size="10.45" fill="#fff">Enter your title</text><text x="552.5" y="1650.7" font-size="9.2" fill="#202020">Enter a title</text><text x="609.5" y="1650.7" font-size="9.2" fill="#202020">500,000</text><line x1="552.0" y1="1664.1000000000001" x2="648" y2="1664.1000000000001" stroke="#e6e6e6" stroke-width="0.7"/><text x="552.5" y="1684.3" font-size="9.2" fill="#202020">Enter a title</text><text x="609.5" y="1684.3" font-size="9.2" fill="#202020">300,000</text><line x1="552.0" y1="1697.7" x2="648" y2="1697.7" stroke="#e6e6e6" stroke-width="0.7"/><text x="552.5" y="1717.8" font-size="9.2" fill="#202020">Enter a title</text><text x="609.5" y="1717.8" font-size="9.2" fill="#202020">60,000</text><line x1="552.0" y1="1731.2" x2="648" y2="1731.2" stroke="#e6e6e6" stroke-width="0.7"/><text x="552.5" y="1751.5" font-size="9.2" fill="#202020">Enter a title</text><text x="609.5" y="1751.5" font-size="9.2" fill="#202020">55,000</text>
<path d="M669.0 1613.9L783.9 1613.9L783.9 1771.0Q783.9 1775.0 779.9 1775.0L673.0 1775.0Q669.0 1775.0 669.0 1771.0Z" fill="#f2f2f2"/><path d="M669.0 1615.9L669.0 1578.8Q669.0 1575.8 672.0 1575.8L780.9 1575.8Q783.9 1575.8 783.9 1578.8L783.9 1615.9Z" fill="#336699"/><circle cx="676.1" cy="1594.9" r="13.15" fill="#fff" stroke="#26558c" stroke-width="1.45"/><g transform="translate(664.7595505617977 1581.3904494382023) scale(0.02809)"><path d="M400 128C300 128 255 230 247 370C240 460 262 500 300 512L350 525L500 525L545 510C585 490 600 440 588 370C572 225 505 128 400 128Z" fill="#336699"/><path d="M112 748C118 690 135 650 170 630L345 530L455 530L540 575L590 748Z" fill="#336699"/><path d="M302 325C350 300 410 275 440 243C465 275 510 300 548 318C548 390 520 440 492 475L488 545L420 752L395 752L352 545L352 480C322 440 302 390 302 325Z" fill="#fff"/><circle cx="680" cy="632" r="128" fill="#fff"/><circle cx="680" cy="632" r="104" fill="#336699"/><rect x="612" y="614" width="136" height="36" fill="#fff"/><rect x="662" y="564" width="36" height="136" fill="#fff"/></g>
<text x="697.5" y="1599.0" font-size="10.45" fill="#fff">Enter your title</text><text x="678.5" y="1650.7" font-size="9.2" fill="#202020">Enter a title</text><text x="736.5" y="1650.7" font-size="9.2" fill="#202020">500,000</text><line x1="678.0" y1="1664.1000000000001" x2="775" y2="1664.1000000000001" stroke="#e6e6e6" stroke-width="0.7"/><text x="678.5" y="1684.3" font-size="9.2" fill="#202020">Enter a title</text><text x="736.5" y="1684.3" font-size="9.2" fill="#202020">300,000</text><line x1="678.0" y1="1697.7" x2="775" y2="1697.7" stroke="#e6e6e6" stroke-width="0.7"/><text x="678.5" y="1717.8" font-size="9.2" fill="#202020">Enter a title</text><text x="736.5" y="1717.8" font-size="9.2" fill="#202020">60,000</text><line x1="678.0" y1="1731.2" x2="775" y2="1731.2" stroke="#e6e6e6" stroke-width="0.7"/><text x="678.5" y="1751.5" font-size="9.2" fill="#202020">Enter a title</text><text x="736.5" y="1751.5" font-size="9.2" fill="#202020">55,000</text>
<path d="M795.6 1613.9L943.6 1613.9L943.6 1771.0Q943.6 1775.0 939.6 1775.0L799.6 1775.0Q795.6 1775.0 795.6 1771.0Z" fill="#f2f2f2"/><path d="M795.6 1615.9L795.6 1578.8Q795.6 1575.8 798.6 1575.8L940.6 1575.8Q943.6 1575.8 943.6 1578.8L943.6 1615.9Z" fill="#336699"/><circle cx="802.5" cy="1594.9" r="13.15" fill="#fff" stroke="#26558c" stroke-width="1.45"/><g transform="translate(798.1 1598.5) scale(1.12)"><path d="M-5 0C-5-2.5-3.6-3.2-1.6-3.9L1.6-3.9C3.6-3.2 5-2.5 5 0Z" fill="#336699"/><path d="M0-10.2C-2.3-10.2-3.1-8.4-3.1-6.6C-3.1-5-2.5-4-1.6-3.6L1.6-3.6C2.5-4 3.1-5 3.1-6.6C3.1-8.4 2.3-10.2 0-10.2Z" fill="#336699"/><path d="M-1.9-6.9C-.9-7.3.1-7.9.6-8.6C1-7.9 1.5-7.4 2-7.1C2-5.6 1.5-4.7.9-4.1L.8-3L.25 0L-.25 0L-.8-3L-.9-4.1C-1.5-4.7-1.9-5.6-1.9-6.9Z" fill="#fff"/></g><ellipse cx="807.1" cy="1595.5" rx="5.6" ry="7.6" fill="#fff"/><g transform="translate(807.3 1602.6000000000001) scale(1.27)"><path d="M-5 0C-5-2.5-3.6-3.2-1.6-3.9L1.6-3.9C3.6-3.2 5-2.5 5 0Z" fill="#336699"/><path d="M0-10.2C-2.3-10.2-3.1-8.4-3.1-6.6C-3.1-5-2.5-4-1.6-3.6L1.6-3.6C2.5-4 3.1-5 3.1-6.6C3.1-8.4 2.3-10.2 0-10.2Z" fill="#336699"/><path d="M-1.9-6.9C-.9-7.3.1-7.9.6-8.6C1-7.9 1.5-7.4 2-7.1C2-5.6 1.5-4.7.9-4.1L.8-3L.25 0L-.25 0L-.8-3L-.9-4.1C-1.5-4.7-1.9-5.6-1.9-6.9Z" fill="#fff"/></g><path d="M802.86 1584.71A10.2 10.2 0 0 1 808.78 1586.86" fill="none" stroke="#336699" stroke-width=".9"/><path d="M801.43 1605.04A10.2 10.2 0 0 1 794.04 1600.60" fill="none" stroke="#336699" stroke-width=".9"/><text x="829.0" y="1599.0" font-size="10.45" fill="#fff">Enter your title</text><text x="816.5" y="1650.7" font-size="9.2" fill="#202020">Enter a title</text><text x="875.5" y="1650.7" font-size="9.2" fill="#202020">500,000</text><line x1="816.0" y1="1664.1000000000001" x2="922" y2="1664.1000000000001" stroke="#e6e6e6" stroke-width="0.7"/><text x="816.5" y="1684.3" font-size="9.2" fill="#202020">Enter a title</text><text x="875.5" y="1684.3" font-size="9.2" fill="#202020">300,000</text><line x1="816.0" y1="1697.7" x2="922" y2="1697.7" stroke="#e6e6e6" stroke-width="0.7"/><text x="816.5" y="1717.8" font-size="9.2" fill="#202020">Enter a title</text><text x="875.5" y="1717.8" font-size="9.2" fill="#202020">60,000</text><line x1="816.0" y1="1731.2" x2="922" y2="1731.2" stroke="#e6e6e6" stroke-width="0.7"/><text x="816.5" y="1751.5" font-size="9.2" fill="#202020">Enter a title</text><text x="875.5" y="1751.5" font-size="9.2" fill="#202020">55,000</text>
</svg>
</section>
</body></html>
